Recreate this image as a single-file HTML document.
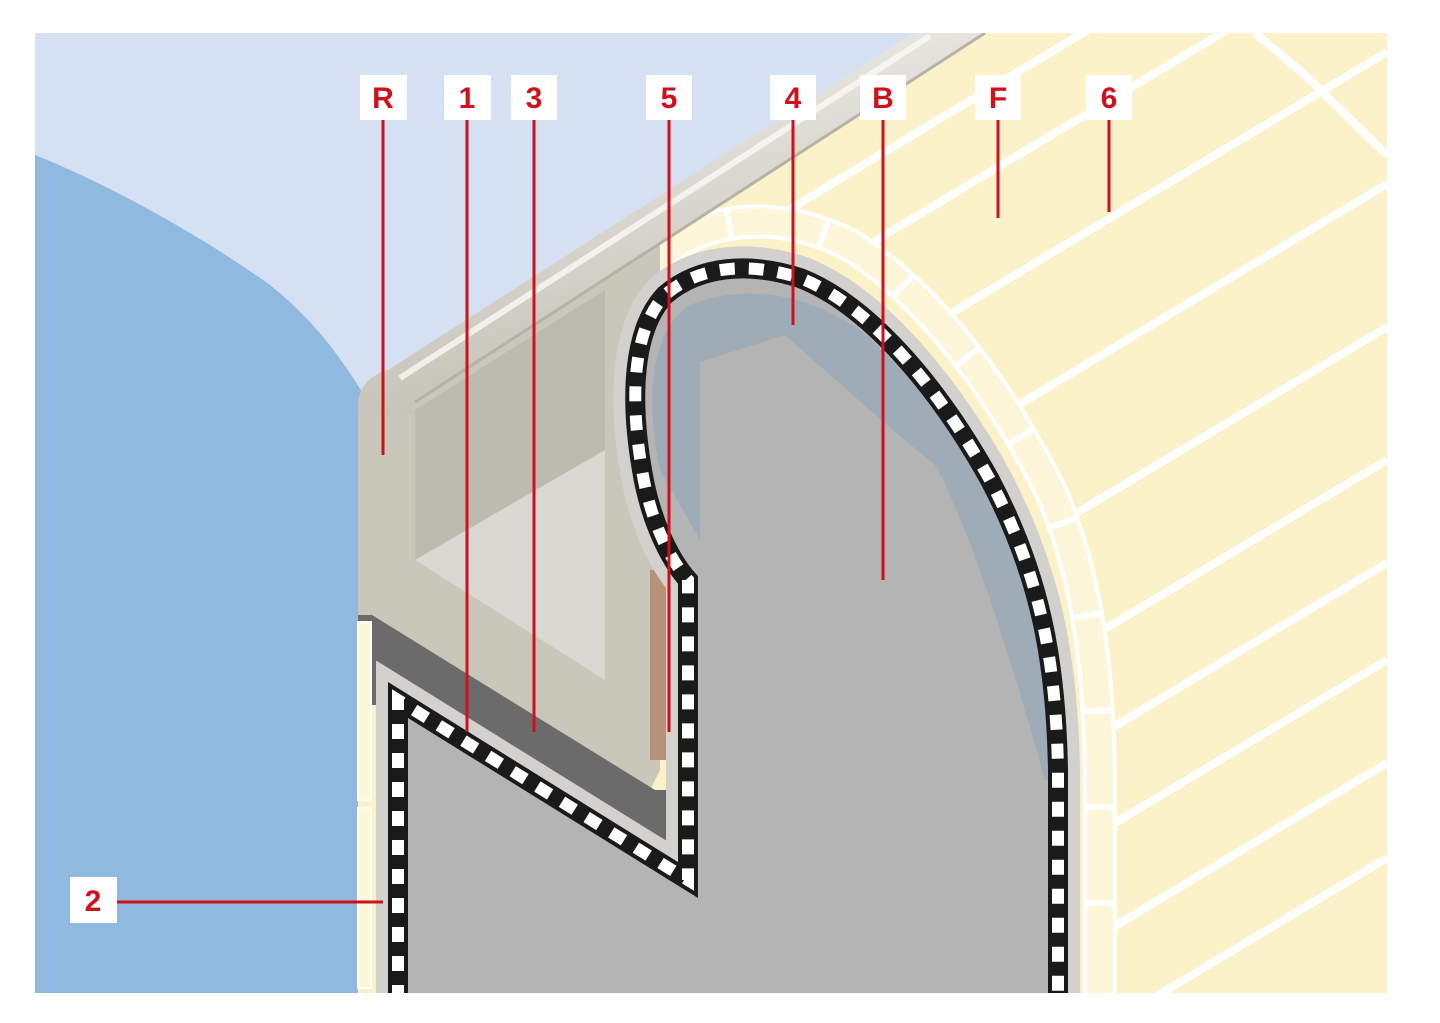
<!DOCTYPE html>
<html><head><meta charset="utf-8"><style>
html,body{margin:0;padding:0;background:#fff;}
svg{display:block;}
text{font-family:"Liberation Sans",sans-serif;font-weight:bold;}
</style></head><body>
<svg width="1440" height="1023" viewBox="0 0 1440 1023" xmlns="http://www.w3.org/2000/svg">
<defs>
<clipPath id="c"><rect x="35" y="33" width="1352" height="960"/></clipPath>
<linearGradient id="cop" x1="0" y1="0" x2="0.35" y2="1">
<stop offset="0" stop-color="#f4f3ef"/><stop offset="0.45" stop-color="#dedcd5"/><stop offset="1" stop-color="#c2bfb3"/>
</linearGradient>
</defs>
<g clip-path="url(#c)">
<rect x="35" y="33" width="1352" height="960" fill="#d5e1f2"/>
<path d="M35,155 C110,185 200,235 270,285 C320,325 345,365 364,395 L360,993 L35,993 Z" fill="#8fb9de"/>
<path d="M358,400 L920,33 L1387,33 L1387,993 L358,993 Z" fill="#fcf2c9"/>
<g stroke="#fff" stroke-width="8" fill="none">
<line x1="780" y1="215" x2="1387" y2="-150"/>
<line x1="860" y1="250" x2="1387" y2="-66"/>
<line x1="940" y1="320" x2="1387" y2="52"/>
<line x1="1010" y1="410" x2="1387" y2="184"/>
<line x1="1065" y1="520" x2="1387" y2="327"/>
<line x1="1100" y1="632" x2="1387" y2="460"/>
<line x1="1100" y1="735" x2="1387" y2="563"/>
<line x1="1100" y1="832" x2="1387" y2="660"/>
<line x1="1100" y1="935" x2="1387" y2="763"/>
<line x1="1100" y1="1030" x2="1387" y2="858"/>
<polyline points="1255,33 1305,75 1387,155"/>
</g>
<path d="M612,545 L605,440 C600,360 620,290 660,255 C710,215 780,210 850,245 C930,295 1000,390 1050,490 C1090,580 1100,680 1100,800 L1100,1000" fill="none" stroke="#fff" stroke-width="34"/>
<path d="M612,545 L605,440 C600,360 620,290 660,255 C710,215 780,210 850,245 C930,295 1000,390 1050,490 C1090,580 1100,680 1100,800 L1100,1000" fill="none" stroke="#fdf6d8" stroke-width="26" stroke-dasharray="90 6"/>
<polygon points="358,410 660,215 660,770 650,790 358,615" fill="#c9c6ba"/>
<polygon points="415,410 605,290 605,450 415,560" fill="#bdbab0"/>
<polygon points="415,560 605,450 605,680" fill="#d9d8d3"/>
<rect x="650" y="570" width="30" height="190" fill="#b8917a"/>
<polygon points="358,615 372,615 655,790 690,790 690,885 398,705 372,705 372,780 358,780" fill="#6b6b6b"/>
<path d="M358,415 L358,400 Q362,378 388,370 L905,38 Q915,32 935,32 L985,32 L415,400 L415,415 Z" fill="url(#cop)"/>
<path d="M400,378 L930,36" stroke="#fafaf7" stroke-width="6" opacity="0.8"/>
<path d="M415,402 L985,33" stroke="#b5b2a6" stroke-width="3"/>
<path d="M398,1000 L398,700 L688,880 L688,580 C670,560 650,520 642,470 C630,400 632,330 665,295 C700,265 750,262 800,278 C870,305 940,390 990,480 C1040,575 1056,660 1058,770 L1058,1000" fill="none" stroke="#d2d1cd" stroke-width="44"/>
<path d="M398,1000 L398,700 L688,880 L688,580 C670,560 650,520 642,470 C630,400 632,330 665,295 C700,265 750,262 800,278 C870,305 940,390 990,480 C1040,575 1056,660 1058,770 L1058,1000 Z" fill="#b4b4b4"/>
<path d="M660,470 C645,400 650,330 690,305 C740,285 800,290 860,330 C930,390 980,470 1020,560 C1045,640 1050,720 1050,780 L1045,780 C1000,620 965,520 935,465 C880,420 830,375 785,335 L700,362 L700,540 Z" fill="#9eacb7"/>
<path d="M398,1000 L398,700 L688,880 L688,580 C670,560 650,520 642,470 C630,400 632,330 665,295 C700,265 750,262 800,278 C870,305 940,390 990,480 C1040,575 1056,660 1058,770 L1058,1000" fill="none" stroke="#1a1a1a" stroke-width="20"/>
<path d="M398,1000 L398,700 L688,880 L688,580 C670,560 650,520 642,470 C630,400 632,330 665,295 C700,265 750,262 800,278 C870,305 940,390 990,480 C1040,575 1056,660 1058,770 L1058,1000" fill="none" stroke="#fff" stroke-width="12" stroke-dasharray="15 14"/>
<rect x="358" y="622" width="13" height="178" fill="#fdf6d8" stroke="#fff" stroke-width="2"/>
<rect x="358" y="808" width="13" height="180" fill="#fdf6d8" stroke="#fff" stroke-width="2"/>
</g>
<g stroke="#d0101a" stroke-width="3">
<line x1="383" y1="120" x2="383" y2="455"/>
<line x1="467" y1="120" x2="467" y2="732"/>
<line x1="534" y1="120" x2="534" y2="732"/>
<line x1="669" y1="120" x2="669" y2="732"/>
<line x1="793" y1="120" x2="793" y2="325"/>
<line x1="883" y1="120" x2="883" y2="580"/>
<line x1="998" y1="120" x2="998" y2="218"/>
<line x1="1109" y1="120" x2="1109" y2="212"/>
<line x1="117" y1="902" x2="383" y2="902"/>
</g>
<g fill="#fff">
<rect x="360" y="75" width="47" height="45"/><rect x="444" y="75" width="47" height="45"/>
<rect x="511" y="75" width="46" height="45"/><rect x="646" y="75" width="46" height="45"/>
<rect x="770" y="75" width="46" height="45"/><rect x="860" y="75" width="46" height="45"/>
<rect x="975" y="75" width="46" height="45"/><rect x="1086" y="75" width="46" height="45"/>
<rect x="70" y="877" width="47" height="46"/>
</g>
<g fill="#d0101a" font-size="30" text-anchor="middle">
<text x="383" y="108">R</text><text x="467" y="108">1</text><text x="534" y="108">3</text>
<text x="669" y="108">5</text><text x="793" y="108">4</text><text x="883" y="108">B</text>
<text x="998" y="108">F</text><text x="1109" y="108">6</text><text x="93" y="911">2</text>
</g>
</svg>
</body></html>
